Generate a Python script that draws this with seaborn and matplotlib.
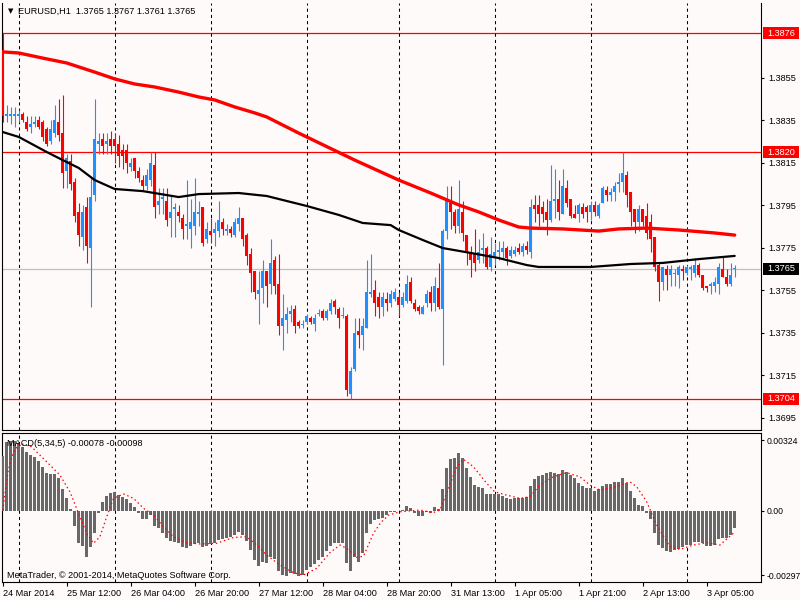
import numpy as np
import matplotlib
matplotlib.use("Agg")
import matplotlib.pyplot as plt
import seaborn as sns
from matplotlib.patches import Rectangle
from matplotlib.transforms import blended_transform_factory

# ---------------- data (EURUSD H1, 24 Mar 20:00 .. 3 Apr 12:00) ----------------
symbol = "EURUSD"
timeframe = "H1"

opens = [1.3868,1.3837,1.3837,1.3837,1.3837,1.3838,1.3834,1.3832,1.3833,1.3835,
         1.3834,1.3831,1.3825,1.3829,1.3834,1.3829,1.3811,1.3816,1.3806,1.3792,
         1.3780,1.3794,1.3775,1.3800,1.3824,1.3826,1.3824,1.3826,1.3826,1.3824,
         1.3821,1.3821,1.3813,1.3817,1.3811,1.3807,1.3804,1.3807,1.3814,1.3795,
         1.3798,1.3797,1.3789,1.3793,1.3792,1.3789,1.3785,1.3784,1.3785,1.3791,
         1.3794,1.3779,1.3783,1.3782,1.3783,1.3787,1.3783,1.3784,1.3781,1.3786,
         1.3789,1.3781,1.3772,1.3764,1.3753,1.3756,1.3764,1.3758,1.3769,1.3758,
         1.3738,1.3741,1.3744,1.3746,1.3740,1.3739,1.3740,1.3742,1.3739,1.3744,
         1.3745,1.3742,1.3745,1.3750,1.3746,1.3743,1.3743,1.3706,1.3718,1.3736,
         1.3734,1.3737,1.3753,1.3755,1.3752,1.3747,1.3751,1.3749,1.3751,1.3752,
         1.3748,1.3750,1.3759,1.3749,1.3747,1.3744,1.3749,1.3754,1.3749,1.3756,
         1.3746,1.3783,1.3796,1.3792,1.3785,1.3792,1.3781,1.3773,1.3772,1.3769,
         1.3774,1.3775,1.3766,1.3771,1.3773,1.3773,1.3775,1.3771,1.3772,1.3775,
         1.3773,1.3776,1.3773,1.3795,1.3795,1.3794,1.3792,1.3788,1.3797,1.3798,
         1.3791,1.3803,1.3798,1.3791,1.3791,1.3794,1.3794,1.3792,1.3795,1.3790,
         1.3796,1.3802,1.3800,1.3801,1.3805,1.3806,1.3809,1.3801,1.3793,1.3787,
         1.3793,1.3790,1.3787,1.3780,1.3767,1.3759,1.3765,1.3762,1.3763,1.3762,
         1.3765,1.3763,1.3765,1.3763,1.3767,1.3762,1.3757,1.3757,1.3757,1.3758,
         1.3765,1.3761,1.3758,1.3765]
highs = [1.3876,1.3842,1.3841,1.3841,1.3840,1.3839,1.3837,1.3837,1.3837,1.3837,
         1.3835,1.3832,1.3835,1.3842,1.3845,1.3847,1.3819,1.3819,1.3808,1.3796,
         1.3795,1.3799,1.3808,1.3845,1.3829,1.3829,1.3829,1.3830,1.3829,1.3828,
         1.3824,1.3824,1.3817,1.3817,1.3813,1.3809,1.3812,1.3820,1.3820,1.3803,
         1.3803,1.3803,1.3800,1.3796,1.3795,1.3791,1.3807,1.3798,1.3808,1.3797,
         1.3794,1.3787,1.3789,1.3787,1.3797,1.3789,1.3786,1.3785,1.3789,1.3794,
         1.3789,1.3782,1.3775,1.3764,1.3764,1.3769,1.3764,1.3779,1.3771,1.3772,
         1.3753,1.3747,1.3748,1.3748,1.3741,1.3741,1.3744,1.3743,1.3744,1.3746,
         1.3746,1.3746,1.3751,1.3751,1.3747,1.3747,1.3744,1.3719,1.3742,1.3742,
         1.3742,1.3769,1.3772,1.3760,1.3754,1.3754,1.3754,1.3755,1.3756,1.3754,
         1.3754,1.3762,1.3761,1.3751,1.3748,1.3748,1.3755,1.3757,1.3761,1.3768,
         1.3784,1.3804,1.3804,1.3793,1.3807,1.3797,1.3781,1.3776,1.3784,1.3779,
         1.3782,1.3776,1.3780,1.3777,1.3778,1.3778,1.3776,1.3776,1.3776,1.3777,
         1.3777,1.3778,1.3798,1.3800,1.3800,1.3797,1.3798,1.3814,1.3812,1.3807,
         1.3812,1.3807,1.3798,1.3795,1.3796,1.3796,1.3795,1.3797,1.3797,1.3796,
         1.3804,1.3804,1.3803,1.3806,1.3810,1.3820,1.3811,1.3801,1.3793,1.3795,
         1.3793,1.3796,1.3791,1.3780,1.3768,1.3766,1.3767,1.3767,1.3765,1.3767,
         1.3767,1.3767,1.3767,1.3770,1.3768,1.3762,1.3757,1.3759,1.3761,1.3768,
         1.3771,1.3765,1.3768,1.3767]
lows = [1.3834,1.3834,1.3833,1.3832,1.3834,1.3834,1.3830,1.3829,1.3832,1.3831,
        1.3825,1.3823,1.3824,1.3827,1.3825,1.3803,1.3803,1.3802,1.3787,1.3776,
        1.3774,1.3768,1.3747,1.3797,1.3819,1.3819,1.3819,1.3819,1.3815,1.3813,
        1.3812,1.3810,1.3811,1.3808,1.3806,1.3802,1.3802,1.3804,1.3789,1.3791,
        1.3791,1.3785,1.3780,1.3780,1.3787,1.3779,1.3779,1.3775,1.3781,1.3785,
        1.3776,1.3777,1.3777,1.3776,1.3780,1.3781,1.3781,1.3780,1.3780,1.3783,
        1.3776,1.3767,1.3754,1.3751,1.3739,1.3749,1.3747,1.3753,1.3753,1.3734,
        1.3727,1.3735,1.3740,1.3735,1.3737,1.3737,1.3739,1.3739,1.3736,1.3743,
        1.3741,1.3741,1.3744,1.3744,1.3737,1.3742,1.3705,1.3704,1.3717,1.3728,
        1.3727,1.3737,1.3752,1.3743,1.3742,1.3743,1.3745,1.3747,1.3750,1.3743,
        1.3747,1.3749,1.3749,1.3745,1.3744,1.3744,1.3747,1.3745,1.3745,1.3746,
        1.3720,1.3779,1.3784,1.3782,1.3782,1.3778,1.3767,1.3761,1.3764,1.3768,
        1.3768,1.3765,1.3764,1.3767,1.3769,1.3770,1.3767,1.3770,1.3771,1.3772,
        1.3771,1.3772,1.3770,1.3787,1.3785,1.3787,1.3781,1.3787,1.3789,1.3788,
        1.3791,1.3794,1.3789,1.3789,1.3787,1.3789,1.3787,1.3788,1.3790,1.3789,
        1.3796,1.3797,1.3797,1.3797,1.3801,1.3801,1.3794,1.3785,1.3782,1.3783,
        1.3785,1.3779,1.3773,1.3764,1.3750,1.3755,1.3755,1.3757,1.3757,1.3756,
        1.3760,1.3762,1.3760,1.3761,1.3761,1.3755,1.3754,1.3753,1.3754,1.3753,
        1.3761,1.3757,1.3757,1.3761]
closes = [1.3837,1.3838,1.3838,1.3838,1.3838,1.3835,1.3831,1.3833,1.3834,1.3832,
          1.3827,1.3824,1.3831,1.3835,1.3828,1.3810,1.3817,1.3805,1.3790,1.3781,
          1.3792,1.3776,1.3799,1.3826,1.3825,1.3823,1.3825,1.3823,1.3823,1.3818,
          1.3818,1.3815,1.3815,1.3811,1.3808,1.3804,1.3809,1.3815,1.3794,1.3797,
          1.3799,1.3788,1.3792,1.3794,1.3790,1.3784,1.3786,1.3787,1.3792,1.3792,
          1.3777,1.3784,1.3781,1.3784,1.3788,1.3784,1.3784,1.3782,1.3787,1.3789,
          1.3779,1.3771,1.3763,1.3754,1.3755,1.3764,1.3757,1.3768,1.3757,1.3738,
          1.3742,1.3744,1.3745,1.3738,1.3738,1.3739,1.3743,1.3740,1.3742,1.3744,
          1.3742,1.3745,1.3749,1.3747,1.3742,1.3743,1.3708,1.3717,1.3735,1.3734,
          1.3738,1.3754,1.3754,1.3749,1.3747,1.3752,1.3749,1.3753,1.3754,1.3748,
          1.3752,1.3758,1.3750,1.3746,1.3745,1.3747,1.3753,1.3749,1.3757,1.3747,
          1.3783,1.3797,1.3792,1.3785,1.3793,1.3782,1.3773,1.3769,1.3768,1.3773,
          1.3775,1.3766,1.3772,1.3773,1.3774,1.3775,1.3770,1.3774,1.3774,1.3773,
          1.3776,1.3774,1.3794,1.3793,1.3791,1.3791,1.3788,1.3797,1.3798,1.3792,
          1.3804,1.3796,1.3790,1.3789,1.3795,1.3791,1.3792,1.3795,1.3792,1.3795,
          1.3803,1.3800,1.3801,1.3804,1.3806,1.3810,1.3800,1.3792,1.3787,1.3793,
          1.3787,1.3782,1.3779,1.3766,1.3759,1.3766,1.3762,1.3765,1.3763,1.3766,
          1.3764,1.3766,1.3766,1.3767,1.3762,1.3756,1.3756,1.3758,1.3759,1.3766,
          1.3761,1.3758,1.3762,1.3765]

# moving averages, read at points along the lines (candle index, price)
ma_slow_idx = [0, 4, 10, 16, 23, 28, 33, 38, 44, 49, 53, 58, 63, 66, 74, 88, 99,
               107, 114, 119, 124, 129, 132, 140, 149, 154, 161, 169, 178, 183]
ma_slow_val = [1.38671, 1.38666, 1.38642, 1.38619, 1.38576, 1.38544, 1.38520,
               1.38506, 1.38482, 1.38459, 1.38445, 1.38412, 1.38384, 1.38365,
               1.38289, 1.38162, 1.38068, 1.38007, 1.37951, 1.37918, 1.37880,
               1.37847, 1.37842, 1.37838, 1.37828, 1.37838, 1.37842, 1.37833,
               1.37819, 1.37809]
ma_fast_idx = [0, 4, 11, 15, 19, 23, 28, 35, 44, 49, 59, 66, 76, 84, 90, 97, 99,
               105, 110, 117, 124, 131, 134, 147, 157, 165, 174, 183]
ma_fast_val = [1.38294, 1.38271, 1.38200, 1.38162, 1.38125, 1.38068, 1.38026,
               1.38016, 1.37988, 1.38002, 1.38007, 1.37993, 1.37946, 1.37904,
               1.37866, 1.37856, 1.37833, 1.37786, 1.37748, 1.37725, 1.37701,
               1.37668, 1.37659, 1.37659, 1.37673, 1.37678, 1.37696, 1.37711]

# horizontal levels
level_lines = [1.3876, 1.3820, 1.3704]
bid_price = 1.3765
price_ticks = [1.3695, 1.3715, 1.3735, 1.3755, 1.3775, 1.3795, 1.3815, 1.3835, 1.3855]

# MACD(5,34,5) histogram and signal
macd_hist = [0.00252,0.00318,0.00322,0.00322,0.00313,0.00291,0.00272,0.00256,0.00245,0.00230,
             0.00203,0.00172,0.00169,0.00169,0.00149,0.00098,0.00057,0.00006,-0.00071,-0.00147,
             -0.00163,-0.00212,-0.00169,-0.00101,-0.00009,0.00041,0.00068,0.00080,0.00087,0.00072,
             0.00061,0.00052,0.00037,0.00015,-0.00009,-0.00037,-0.00037,-0.00020,-0.00071,-0.00081,
             -0.00101,-0.00127,-0.00138,-0.00143,-0.00147,-0.00166,-0.00170,-0.00163,-0.00153,-0.00150,
             -0.00166,-0.00163,-0.00153,-0.00147,-0.00135,-0.00132,-0.00127,-0.00123,-0.00112,-0.00097,
             -0.00112,-0.00138,-0.00181,-0.00227,-0.00255,-0.00235,-0.00240,-0.00212,-0.00224,-0.00276,
             -0.00296,-0.00301,-0.00288,-0.00291,-0.00301,-0.00296,-0.00273,-0.00258,-0.00245,-0.00227,
             -0.00212,-0.00184,-0.00163,-0.00147,-0.00147,-0.00147,-0.00240,-0.00276,-0.00215,-0.00235,
             -0.00196,-0.00104,-0.00061,-0.00043,-0.00040,-0.00035,-0.00020,-0.00007,-0.00004,0.00000,
             0.00001,0.00021,0.00011,-0.00009,-0.00025,-0.00025,-0.00005,-0.00012,0.00015,0.00006,
             0.00098,0.00195,0.00236,0.00241,0.00264,0.00241,0.00195,0.00156,0.00118,0.00110,
             0.00103,0.00077,0.00077,0.00077,0.00077,0.00068,0.00057,0.00052,0.00057,0.00057,
             0.00057,0.00061,0.00113,0.00144,0.00160,0.00164,0.00172,0.00179,0.00172,0.00169,
             0.00187,0.00179,0.00164,0.00149,0.00126,0.00113,0.00103,0.00103,0.00092,0.00098,
             0.00113,0.00123,0.00123,0.00133,0.00133,0.00149,0.00129,0.00092,0.00057,0.00026,
             0.00021,-0.00009,-0.00040,-0.00101,-0.00158,-0.00173,-0.00184,-0.00189,-0.00181,-0.00178,
             -0.00169,-0.00158,-0.00158,-0.00143,-0.00143,-0.00147,-0.00163,-0.00163,-0.00158,-0.00132,
             -0.00127,-0.00127,-0.00112,-0.00078]
signal_idx = [0, 1.4, 2.7, 4.3, 7.2, 11, 14.3, 16.8, 19.3, 21.2, 22.7, 24.3, 26, 27.7,
              30.2, 32.7, 35.2, 37.7, 40.2, 42.7, 46, 49.3, 53.5, 57.7, 61, 63.5, 66,
              69.3, 72.7, 75.2, 78.5, 81.8, 84.3, 86, 88.5, 90.2, 92.7, 94.5, 96.5,
              99.3, 104.3, 107.6, 109.3, 111, 113.5, 115.2, 117.7, 121, 123, 125.9,
              129.3, 131.8, 134.3, 137.7, 141, 144.3, 146.8, 149.3, 152.7, 156.8,
              158.5, 161, 163.5, 166.8, 169.3, 172.7, 176, 179.3, 183]
signal_val = [0.00003, 0.00187, 0.00271, 0.00310, 0.00294, 0.00225, 0.00164, 0.00087,
              -0.00028, -0.00112, -0.00150, -0.00120, -0.00028, 0.00057, 0.00077, 0.00057,
              0.00011, -0.00020, -0.00074, -0.00120, -0.00147, -0.00153, -0.00150, -0.00123,
              -0.00120, -0.00158, -0.00204, -0.00250, -0.00285, -0.00296, -0.00265, -0.00193,
              -0.00158, -0.00173, -0.00215, -0.00209, -0.00104, -0.00055, -0.00020, -0.00005,
              0.00003, -0.00009, 0.00003, 0.00080, 0.00202, 0.00236, 0.00202, 0.00126,
              0.00087, 0.00072, 0.00057, 0.00064, 0.00118, 0.00156, 0.00175, 0.00156,
              0.00118, 0.00095, 0.00107, 0.00133, 0.00110, 0.00041, -0.00066, -0.00166,
              -0.00178, -0.00158, -0.00147, -0.00158, -0.00098]
macd_ticks = [0.00324, 0.0, -0.00297]
macd_tick_labels = ["0.00324", "0.00", "-0.00297"]

# time axis
day_start_idx = [4, 28, 52, 76, 99, 123, 147, 171]
time_tick_idx = [0, 16, 32, 48, 64, 80, 96, 112, 128, 144, 160, 176]
time_tick_labels = ["24 Mar 2014", "25 Mar 12:00", "26 Mar 04:00", "26 Mar 20:00",
                    "27 Mar 12:00", "28 Mar 04:00", "28 Mar 20:00", "31 Mar 13:00",
                    "1 Apr 05:00", "1 Apr 21:00", "2 Apr 13:00", "3 Apr 05:00"]

# ---------------- style ----------------
sns.set_style("white")
plt.rcParams["font.family"] = ["Liberation Sans", "DejaVu Sans"]
BG = "#fffafa"
UP = "#1e90ff"
DN = "#ff0000"
FS = 6.6

W, Hh = 800, 600
fig = plt.figure(figsize=(8, 6), dpi=100, facecolor=BG)
ax = fig.add_axes([2 / W, 1 - 430 / Hh, 759 / W, 427 / Hh], facecolor=BG)
ax2 = fig.add_axes([2 / W, 1 - 582 / Hh, 759 / W, 149 / Hh], facecolor=BG)

O = np.array(opens); Hi = np.array(highs); Lo = np.array(lows); C = np.array(closes)
n = len(O)
idx = np.arange(n)
up = C >= O
cols = np.where(up, UP, DN)

xlim = (-0.175, 189.575)

# ---- price pane ----
for lv in level_lines:
    ax.axhline(lv, color="red", lw=0.9, zorder=1)
ax.axhline(bid_price, color="#c0c0c0", lw=0.9, zorder=1)
for d in day_start_idx:
    ax.axvline(d, color="black", lw=0.75, ls=(0, (3, 3)), zorder=1)
    ax2.axvline(d, color="black", lw=0.75, ls=(0, (3, 3)), zorder=1)

ax.vlines(idx, Lo, Hi, colors=cols, lw=0.8, zorder=3)
body_h = np.abs(C - O)
doji = body_h < 0.00004
heights = np.where(doji, 0.00004, body_h)
bottoms = np.where(doji, C - 0.00002, np.minimum(O, C))
ax.bar(idx, heights, bottom=bottoms, width=0.75, color=cols, linewidth=0, zorder=4)

sns.lineplot(x=ma_slow_idx, y=ma_slow_val, ax=ax, color="#ff0000", linewidth=2.4,
             legend=False, zorder=5)
sns.lineplot(x=ma_fast_idx, y=ma_fast_val, ax=ax, color="black", linewidth=1.6,
             legend=False, zorder=5)

ax.set_xlim(*xlim)
ax.set_ylim(1.368918, 1.389012)
ax.set_xticks([])
ax.yaxis.tick_right()
ax.set_yticks(price_ticks)
ax.set_yticklabels([f"{v:.4f}" for v in price_ticks])
ax.tick_params(axis="y", direction="out", length=2.5, width=0.8, labelsize=FS,
               pad=3, colors="black", right=True, left=False)
ax.set_xlabel(""); ax.set_ylabel("")
for s in ["left", "right", "bottom"]:
    ax.spines[s].set_color("black"); ax.spines[s].set_linewidth(0.8)
ax.spines["top"].set_visible(False)

# boxed price labels on the right scale
bt = blended_transform_factory(fig.transFigure, ax.transData)
box_h = 12 * (ax.get_ylim()[1] - ax.get_ylim()[0]) / 427
for lv, fc in [(1.3876, "red"), (1.3820, "red"), (1.3704, "red"), (bid_price, "black")]:
    r = Rectangle((763 / W, lv - box_h / 2), 36 / W, box_h, transform=bt,
                  facecolor=fc, edgecolor="none", clip_on=False, zorder=10)
    ax.add_patch(r)
    ax.text(767 / W, lv, f"{lv:.4f}", transform=bt, color="white", fontsize=FS,
            va="center", ha="left", clip_on=False, zorder=11)

# ---- MACD pane ----
ax2.bar(idx, macd_hist, width=0.75, color="#686868", linewidth=0, zorder=3)
sns.lineplot(x=signal_idx, y=signal_val, ax=ax2, color="red", linewidth=0.9,
             legend=False, zorder=4)
ax2.lines[-1].set_linestyle((0, (1.2, 2.2)))
ax2.set_xlim(*xlim)
ax2.set_ylim(-0.00328, 0.003574)
ax2.yaxis.tick_right()
ax2.set_yticks(macd_ticks)
ax2.set_yticklabels(macd_tick_labels)
ax2.tick_params(axis="y", direction="out", length=2.5, width=0.8, labelsize=6.2,
                pad=1.5, colors="black", right=True, left=False)
ax2.set_xticks(time_tick_idx)
ax2.set_xticklabels(time_tick_labels, ha="left")
ax2.tick_params(axis="x", direction="out", length=3, width=0.8, labelsize=FS,
                pad=2, colors="black", bottom=True)
ax2.set_xlabel(""); ax2.set_ylabel("")
for s in ["left", "right", "bottom", "top"]:
    ax2.spines[s].set_color("black"); ax2.spines[s].set_linewidth(0.8)

# ---- texts ----
fig.text(8 / W, 1 - 11 / Hh, "\u25bc", fontsize=5, family="DejaVu Sans",
         va="center", ha="left", color="black")
fig.text(18 / W, 1 - 11 / Hh,
         f"{symbol},{timeframe}  {opens[-1]:.4f} {highs[-1]:.4f} {lows[-1]:.4f} {closes[-1]:.4f}",
         fontsize=FS, va="center", ha="left", color="black")
fig.text(7 / W, 1 - 443 / Hh,
         f"MACD(5,34,5) {macd_hist[-1]:.5f} {signal_val[-1]:.5f}",
         fontsize=FS, va="center", ha="left", color="black", zorder=12)
fig.text(7 / W, 1 - 575 / Hh, "MetaTrader, \u00a9 2001-2014, MetaQuotes Software Corp.",
         fontsize=FS, va="center", ha="left", color="black", zorder=12)

fig.savefig("out.png", dpi=100, facecolor=BG)
